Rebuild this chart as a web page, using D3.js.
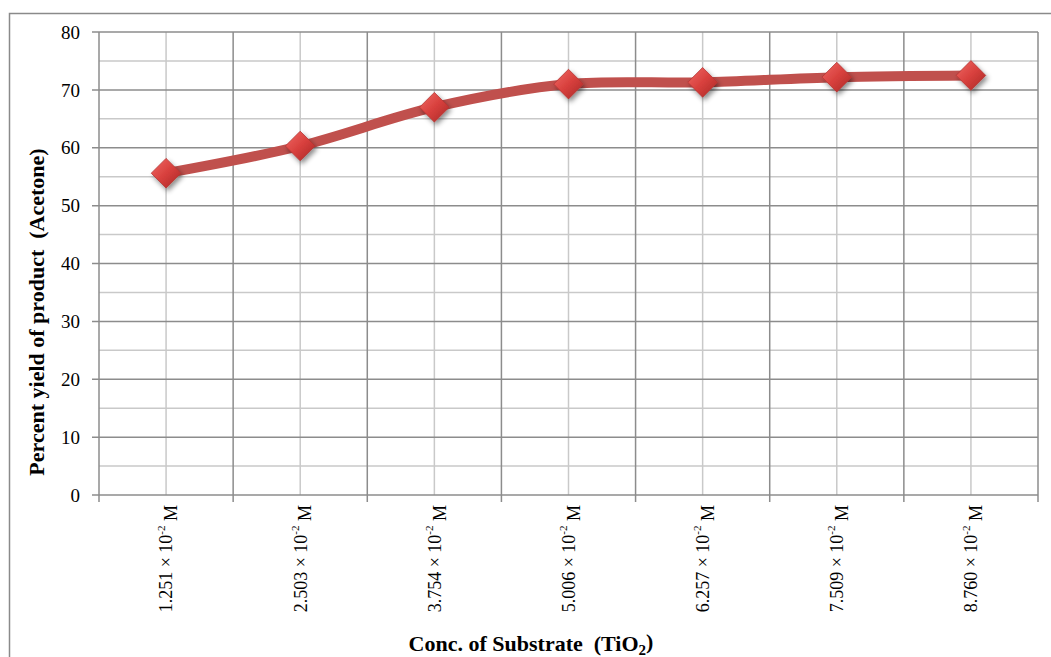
<!DOCTYPE html>
<html>
<head>
<meta charset="utf-8">
<script src="https://cdn.jsdelivr.net/npm/d3@7/dist/d3.min.js"></script>
<style>
  html, body { margin: 0; padding: 0; background: #fff; }
  svg { display: block; }
</style>
</head>
<body>
<svg id="chart" width="1051" height="657" font-family="'Liberation Serif', 'DejaVu Serif', serif"></svg>
<script>
// Substrate concentrations (mantissa of ×10⁻² M) and acetone yield (%)
const concentrations = ["1.251", "2.503", "3.754", "5.006", "6.257", "7.509", "8.760"];
const yieldPercent = [55.6, 60.3, 67.0, 71.0, 71.3, 72.2, 72.5];
const yTicks = [0, 10, 20, 30, 40, 50, 60, 70, 80];
const yMinor = [5, 15, 25, 35, 45, 55, 65, 75];

const svg = d3.select("#chart");
const plot = { left: 99, top: 32, right: 1038, bottom: 495 };

// outer chart frame
svg.append("rect")
  .attr("x", 9.5).attr("y", 13.5)
  .attr("width", 1100).attr("height", 700)
  .attr("fill", "none").attr("stroke", "#8a8a8a").attr("stroke-width", 1.5);

const x = d3.scaleBand().domain(concentrations).range([plot.left, plot.right]).padding(0);
const y = d3.scaleLinear().domain([0, 80]).range([plot.bottom, plot.top]);
const cx = d => x(d) + x.bandwidth() / 2;

const defs = svg.append("defs");
const grad = defs.append("linearGradient").attr("id", "diamondFill")
  .attr("x1", "0").attr("y1", "0").attr("x2", "1").attr("y2", "1");
grad.append("stop").attr("offset", "0%").attr("stop-color", "#f06a66");
grad.append("stop").attr("offset", "50%").attr("stop-color", "#d8403d");
grad.append("stop").attr("offset", "100%").attr("stop-color", "#a82826");
const shadow = defs.append("filter").attr("id", "markerShadow")
  .attr("x", "-50%").attr("y", "-50%").attr("width", "200%").attr("height", "200%");
shadow.append("feDropShadow").attr("dx", 2).attr("dy", 3).attr("stdDeviation", 2.5)
  .attr("flood-color", "#000").attr("flood-opacity", 0.45);

const grid = svg.append("g");
// minor horizontal gridlines
grid.selectAll("line.ymin").data(yMinor).join("line")
  .attr("x1", plot.left).attr("x2", plot.right)
  .attr("y1", d => y(d)).attr("y2", d => y(d))
  .attr("stroke", "#c9c9c9").attr("stroke-width", 1.5);
// vertical lines through category centres
grid.selectAll("line.xmin").data(concentrations).join("line")
  .attr("x1", cx).attr("x2", cx)
  .attr("y1", plot.top).attr("y2", plot.bottom)
  .attr("stroke", "#c9c9c9").attr("stroke-width", 1.5);
// major horizontal gridlines with left tick marks
grid.selectAll("line.ymaj").data(yTicks).join("line")
  .attr("x1", plot.left - 7).attr("x2", plot.right)
  .attr("y1", d => y(d)).attr("y2", d => y(d))
  .attr("stroke", "#8c8c8c").attr("stroke-width", 1.5);
// category boundaries with bottom tick marks
const bounds = concentrations.map(d => x(d)).concat([plot.right]);
grid.selectAll("line.xmaj").data(bounds).join("line")
  .attr("x1", d => d).attr("x2", d => d)
  .attr("y1", plot.top).attr("y2", plot.bottom + 7)
  .attr("stroke", "#8c8c8c").attr("stroke-width", 1.5);

// y tick labels
svg.append("g").selectAll("text").data(yTicks).join("text")
  .attr("x", 80).attr("y", d => y(d)).attr("dy", "0.35em")
  .attr("text-anchor", "end").attr("font-size", 19)
  .text(d => d);

// x tick labels (rotated, with superscript exponent)
const xl = svg.append("g").selectAll("text").data(concentrations).join("text")
  .attr("transform", d => `translate(${cx(d)},505) rotate(-90)`)
  .attr("text-anchor", "end").attr("dy", "0.35em").attr("font-size", 18);
xl.append("tspan").text(d => d + " × 10");
xl.append("tspan").attr("font-size", 11).attr("dy", "-0.7em").text("-2");
xl.append("tspan").attr("dy", "0.7em").text(" M");

// axis titles
svg.append("text")
  .attr("transform", `translate(44,312) rotate(-90)`)
  .attr("text-anchor", "middle").attr("font-size", 22).attr("font-weight", "bold")
  .attr("xml:space", "preserve")
  .text("Percent yield of product  (Acetone)");

const xt = svg.append("text")
  .attr("x", 531).attr("y", 651)
  .attr("text-anchor", "middle").attr("font-size", 22).attr("font-weight", "bold")
  .attr("xml:space", "preserve");
xt.append("tspan").text("Conc. of Substrate  (TiO");
xt.append("tspan").attr("font-size", 15).attr("dy", "0.25em").text("2");
xt.append("tspan").attr("dy", "-0.25em").text(")");

// smoothed data line
const line = d3.line()
  .x((d, i) => cx(concentrations[i]))
  .y(d => y(d))
  .curve(d3.curveCatmullRom.alpha(0.5));
svg.append("path").datum(yieldPercent)
  .attr("d", line)
  .attr("fill", "none").attr("stroke", "#c0504d").attr("stroke-width", 10)
  .attr("stroke-linejoin", "round").attr("stroke-linecap", "round");

// diamond markers
const symbol = d3.symbol().type(d3.symbolDiamond2).size(560);
svg.append("g").selectAll("path").data(yieldPercent).join("path")
  .attr("transform", (d, i) => `translate(${cx(concentrations[i])},${y(d)})`)
  .attr("d", symbol)
  .attr("fill", "url(#diamondFill)")
  .attr("stroke", "#b53432").attr("stroke-width", 0.8)
  .attr("filter", "url(#markerShadow)");
</script>
</body>
</html>
